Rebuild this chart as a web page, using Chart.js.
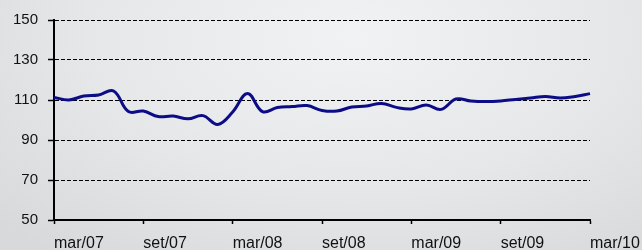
<!DOCTYPE html>
<html>
<head>
<meta charset="utf-8">
<script src="https://cdn.jsdelivr.net/npm/chart.js@4/dist/chart.umd.min.js"></script>
<style>
  html, body { margin: 0; padding: 0; }
  body {
    width: 642px; height: 250px; overflow: hidden;
    background: radial-gradient(ellipse 75% 110% at 55% 15%, #f1f2f3 0%, #e6e7e9 55%, #d7d9db 100%);
  }
  #wrap { position: relative; width: 642px; height: 250px; }
</style>
</head>
<body>
<div id="wrap"><canvas id="chart" width="642" height="250"></canvas></div>
<script>
// months mar/07 .. mar/10
const months = [
  "mar/07", "abr/07", "mai/07", "jun/07", "jul/07", "ago/07",
  "set/07", "out/07", "nov/07", "dez/07", "jan/08", "fev/08",
  "mar/08", "abr/08", "mai/08", "jun/08", "jul/08", "ago/08",
  "set/08", "out/08", "nov/08", "dez/08", "jan/09", "fev/09",
  "mar/09", "abr/09", "mai/09", "jun/09", "jul/09", "ago/09",
  "set/09", "out/09", "nov/09", "dez/09", "jan/10", "fev/10",
  "mar/10"
];
const values = [
  111.3, 110.0, 112.0, 112.5, 114.5, 104.2,
  104.5, 101.7, 102.0, 100.6, 102.2, 97.8,
  104.0, 113.3, 104.2, 106.2, 106.7, 107.2,
  104.8, 104.5, 106.5, 107.0, 108.3, 106.3,
  105.5, 107.5, 105.3, 110.5, 109.5, 109.2,
  109.5, 110.3, 111.0, 111.8, 111.0, 111.8,
  113.2
];
const yTicks = { min: 50, max: 150, step: 20 };

const font = "Liberation Sans, Arial, sans-serif";

new Chart(document.getElementById("chart"), {
  type: "line",
  data: {
    labels: months,
    datasets: [{
      data: values,
      borderColor: "#0c0c86",
      borderWidth: 3,
      pointRadius: 0,
      tension: 0.4,
      fill: false,
    }],
  },
  options: {
    responsive: false,
    animation: false,
    plugins: { legend: { display: false }, tooltip: { enabled: false } },
    layout: { padding: { top: 20, right: 0, left: 0, bottom: 0 } },
    scales: {
      x: {
        offset: false,
        grid: {
          drawOnChartArea: false,
          tickLength: 4,
          tickWidth: 1.5,
          tickColor: (ctx) => (ctx.index % 6 === 0 ? "#000" : "rgba(0,0,0,0)"),
        },
        border: { color: "#000", width: 2 },
        ticks: {
          autoSkip: false,
          maxRotation: 0,
          align: "start",
          padding: 10,
          color: "#111",
          font: { family: font, size: 16 },
          callback: function (v, i) { return i % 6 === 0 ? this.getLabelForValue(v) : ""; },
        },
        afterFit: (s) => { s.height = 30; s.paddingRight = 52; s.paddingLeft = 0; },
      },
      y: {
        min: yTicks.min,
        max: yTicks.max,
        grid: {
          color: "#000",
          lineWidth: 1,
          tickLength: 6,
          tickWidth: 1.5,
          tickColor: "#000",
          tickBorderDash: [],
        },
        border: { color: "#000", width: 2, dash: [4, 2] },
        ticks: {
          stepSize: yTicks.step,
          padding: 10,
          color: "#111",
          font: { family: font, size: 15 },
        },
        afterFit: (s) => { s.width = 54; },
      },
    },
  },
});
</script>
</body>
</html>
